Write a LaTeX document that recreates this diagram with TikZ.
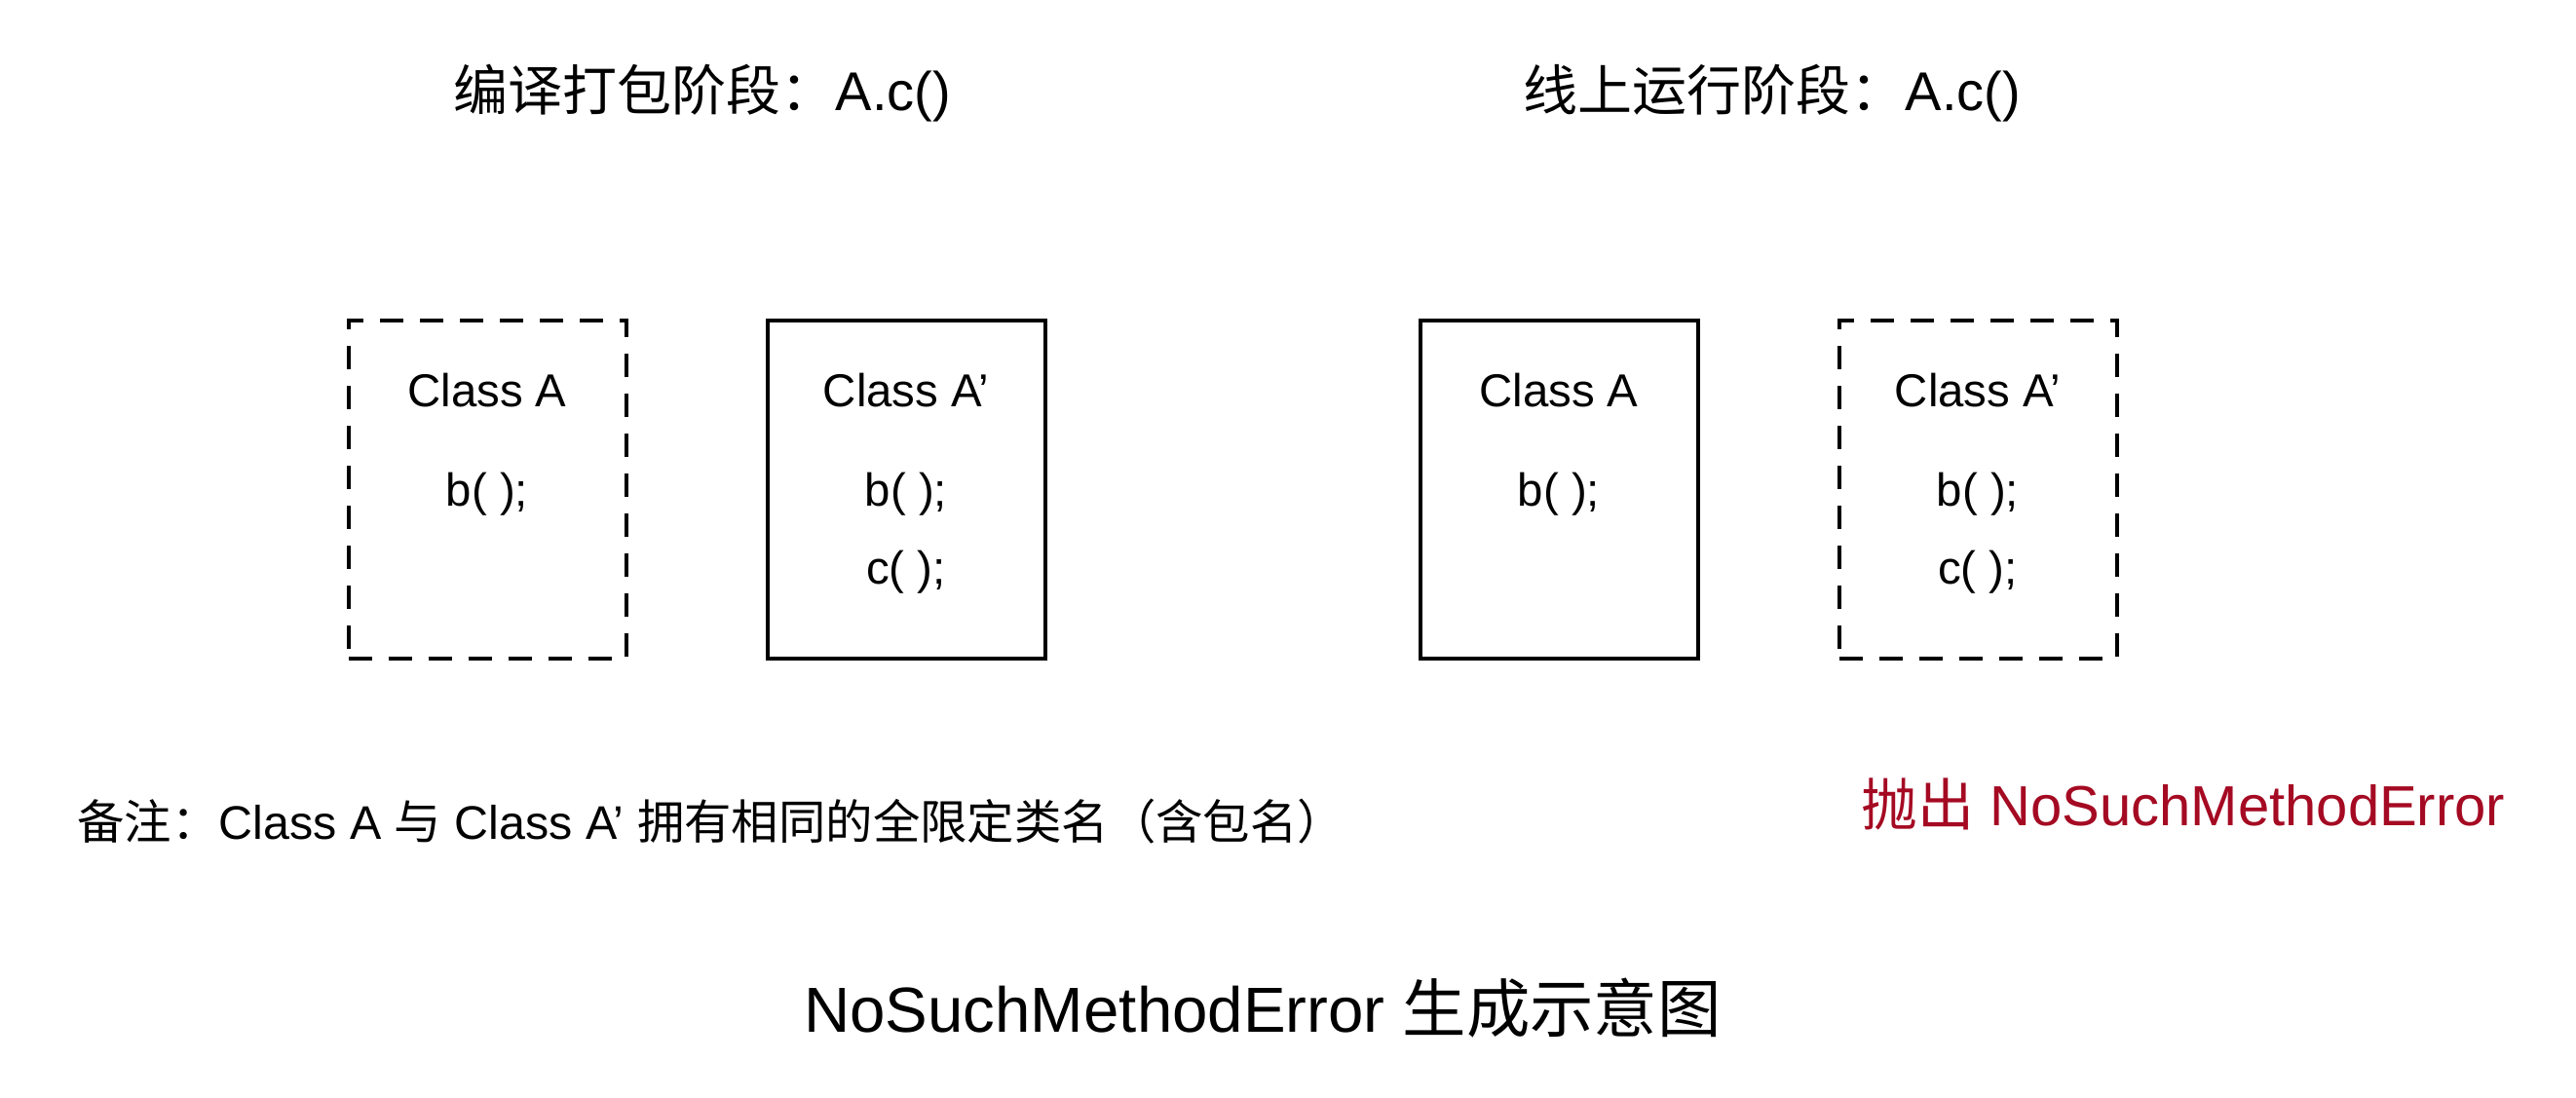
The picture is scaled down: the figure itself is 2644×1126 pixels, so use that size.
\documentclass[tikz,border=0pt]{standalone}
\usepackage{fontspec}
\setmainfont{Liberation Sans}
\newfontfamily\cjk{Noto Sans CJK SC}
\definecolor{errred}{RGB}{165,10,35}
\begin{document}
\begin{tikzpicture}[x=0.5pt,y=-0.5pt,
  classbox/.style={draw=black, line width=2pt, minimum width=142.5pt, minimum height=173.5pt, inner sep=0pt},
  dashbox/.style={classbox, dash pattern=on 12pt off 8.5pt},
  boxtext/.style={font=\fontsize{23.7pt}{28pt}\selectfont, inner sep=0pt},
  heading/.style={font=\fontsize{28pt}{34pt}\selectfont, inner sep=0pt},
  note/.style={font=\fontsize{24.2pt}{29pt}\selectfont, inner sep=0pt, anchor=west},
  errnote/.style={font=\fontsize{29pt}{34pt}\selectfont, text=errred, inner sep=0pt, anchor=west},
  caption/.style={font=\fontsize{32.7pt}{38pt}\selectfont, inner sep=0pt}]
\useasboundingbox[fill=white] (0,0) rectangle (2644,1126);

% headings
\node[heading] (h1) at (721,96) {{\cjk 编译打包阶段：}A.c()};
\node[heading] (h2) at (1819,96) {{\cjk 线上运行阶段：}A.c()};

% compile stage boxes
\node[dashbox] (b1) at (500,502.5) {};
\node[boxtext] (b1t) at (500,401) {Class A};
\node[boxtext] (b1b) at (500,507) {b( );};

\node[classbox] (b2) at (930,502.5) {};
\node[boxtext] (b2t) at (930,401) {Class A’};
\node[boxtext] (b2b) at (930,507) {b( );};
\node[boxtext] (b2c) at (930,587) {c( );};

% runtime stage boxes
\node[classbox] (b3) at (1600,502.5) {};
\node[boxtext] (b3t) at (1600,401) {Class A};
\node[boxtext] (b3b) at (1600,507) {b( );};

\node[dashbox] (b4) at (2030,502.5) {};
\node[boxtext] (b4t) at (2030,401) {Class A’};
\node[boxtext] (b4b) at (2030,507) {b( );};
\node[boxtext] (b4c) at (2030,587) {c( );};

% notes
\node[note] (n1) at (79,843) {{\cjk 备注：}Class A {\cjk 与} Class A’ {\cjk 拥有相同的全限定类名（含包名）}};
\node[errnote] (n2) at (1910,825) {{\cjk 抛出} NoSuchMethodError};

% caption
\node[caption] (cap) at (1296,1035) {NoSuchMethodError {\cjk 生成示意图}};
\end{tikzpicture}
\end{document}
